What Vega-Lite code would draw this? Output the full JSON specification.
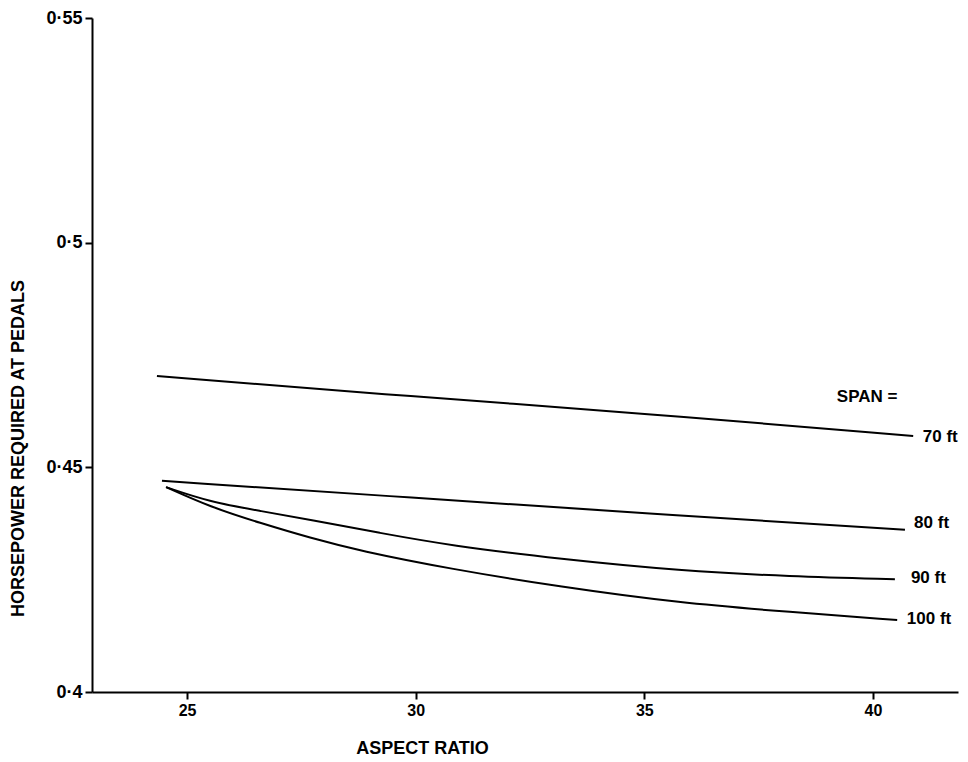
{
  "$schema": "https://vega.github.io/schema/vega-lite/v6.json",
  "width": 866,
  "height": 674,
  "autosize": {"type": "none"},
  "padding": {"left": 92, "top": 18, "right": 10, "bottom": 70},
  "background": "white",
  "config": {
    "view": {"stroke": null},
    "font": "Liberation Sans"
  },
  "datasets": {
    "curves": [
      {"span": "70 ft", "ar": 24.34, "hp": 0.4703},
      {"span": "70 ft", "ar": 30.0, "hp": 0.4657},
      {"span": "70 ft", "ar": 35.0, "hp": 0.4620},
      {"span": "70 ft", "ar": 40.88, "hp": 0.4570},
      {"span": "80 ft", "ar": 24.45, "hp": 0.4470},
      {"span": "80 ft", "ar": 30.0, "hp": 0.4432},
      {"span": "80 ft", "ar": 35.0, "hp": 0.4398},
      {"span": "80 ft", "ar": 40.70, "hp": 0.4361},
      {"span": "90 ft", "ar": 24.54, "hp": 0.4456},
      {"span": "90 ft", "ar": 25.50, "hp": 0.4423},
      {"span": "90 ft", "ar": 26.60, "hp": 0.4403},
      {"span": "90 ft", "ar": 27.69, "hp": 0.4383},
      {"span": "90 ft", "ar": 29.22, "hp": 0.4354},
      {"span": "90 ft", "ar": 30.75, "hp": 0.4326},
      {"span": "90 ft", "ar": 33.16, "hp": 0.4296},
      {"span": "90 ft", "ar": 35.78, "hp": 0.4270},
      {"span": "90 ft", "ar": 38.19, "hp": 0.4257},
      {"span": "90 ft", "ar": 40.48, "hp": 0.4251},
      {"span": "100 ft", "ar": 24.54, "hp": 0.4456},
      {"span": "100 ft", "ar": 25.50, "hp": 0.4412},
      {"span": "100 ft", "ar": 26.60, "hp": 0.4376},
      {"span": "100 ft", "ar": 27.69, "hp": 0.4343},
      {"span": "100 ft", "ar": 28.78, "hp": 0.4314},
      {"span": "100 ft", "ar": 30.75, "hp": 0.4274},
      {"span": "100 ft", "ar": 33.16, "hp": 0.4234},
      {"span": "100 ft", "ar": 35.78, "hp": 0.4198},
      {"span": "100 ft", "ar": 38.19, "hp": 0.4178},
      {"span": "100 ft", "ar": 40.53, "hp": 0.4160}
    ],
    "labels": [
      {"text": "SPAN =", "ar": 39.21, "hp": 0.4657},
      {"text": "70 ft", "ar": 41.09, "hp": 0.4567},
      {"text": "80 ft", "ar": 40.90, "hp": 0.4376},
      {"text": "90 ft", "ar": 40.83, "hp": 0.4254},
      {"text": "100 ft", "ar": 40.74, "hp": 0.4162}
    ]
  },
  "layer": [
    {
      "data": {"name": "curves"},
      "mark": {"type": "line", "interpolate": "basis", "color": "black", "strokeWidth": 2, "clip": false},
      "encoding": {
        "x": {
          "field": "ar", "type": "quantitative",
          "scale": {"domain": [22.92, 41.86], "nice": false, "zero": false},
          "axis": {
            "title": "ASPECT RATIO",
            "values": [25, 30, 35, 40],
            "grid": false,
            "domainColor": "black", "domainWidth": 2,
            "tickColor": "black", "tickWidth": 2, "tickSize": 7,
            "labelFont": "Liberation Sans", "labelFontWeight": "bold", "labelFontSize": 16, "labelColor": "black",
            "labelPadding": 3,
            "titleFont": "Liberation Sans", "titleFontWeight": "bold", "titleFontSize": 18, "titleColor": "black",
            "titleX": 330, "titleY": 56, "titleAlign": "center", "titleBaseline": "middle"
          }
        },
        "y": {
          "field": "hp", "type": "quantitative",
          "scale": {"domain": [0.4, 0.55], "nice": false, "zero": false},
          "axis": {
            "title": "HORSEPOWER REQUIRED AT PEDALS",
            "values": [0.4, 0.45, 0.5, 0.55],
            "format": ".2~f",
            "labelExpr": "replace(datum.label, '.', '·')",
            "grid": false,
            "domainColor": "black", "domainWidth": 2,
            "tickColor": "black", "tickWidth": 2, "tickSize": 7,
            "labelFont": "Liberation Sans", "labelFontWeight": "bold", "labelFontSize": 18, "labelColor": "black",
            "labelPadding": 3,
            "titleFont": "Liberation Sans", "titleFontWeight": "bold", "titleFontSize": 18, "titleColor": "black",
            "titleX": -74, "titleY": 430, "titleAngle": -90, "titleAlign": "center", "titleBaseline": "middle"
          }
        },
        "detail": {"field": "span"}
      }
    },
    {
      "data": {"name": "labels"},
      "mark": {"type": "text", "align": "left", "baseline": "middle", "font": "Liberation Sans", "fontWeight": "bold", "fontSize": 17, "color": "black", "clip": false},
      "encoding": {
        "x": {"field": "ar", "type": "quantitative"},
        "y": {"field": "hp", "type": "quantitative"},
        "text": {"field": "text"}
      }
    }
  ]
}
